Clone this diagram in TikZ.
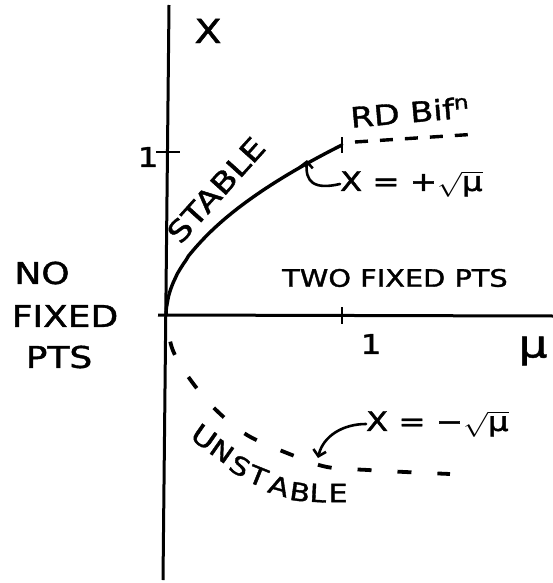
\documentclass[tikz,border=0pt]{standalone}
\usepackage{fontspec}
\setmainfont{DejaVu Sans}[FakeBold=1.3]
\usepackage{graphicx}
\usetikzlibrary{arrows.meta}
\newcommand\hw[1]{\scalebox{1.2}[1]{#1}}
\newcommand\fs[1]{\fontsize{#1}{#1}\selectfont}
\begin{document}
\begin{tikzpicture}[x=1pt,y=-1pt,
  axisline/.style={line width=3pt},
  tickmark/.style={line width=2.6pt},
  stablecurve/.style={line width=3.4pt, line cap=round},
  updash/.style={line width=3.4pt, dash pattern=on 13pt off 12pt},
  lowdash/.style={line width=3.8pt, dash pattern=on 14pt off 26pt, dash phase=14pt},
  ptr/.style={line width=2.6pt, line cap=round, -{Straight Barb[length=6pt,width=13pt,line width=2.6pt]}},
  lbl/.style={inner sep=0pt, outer sep=0pt}
]
\useasboundingbox (0,0) rectangle (553,583);
% axes
\coordinate (O) at (166,315);
\coordinate (ytop) at (169,5);
\coordinate (ybot) at (163,580);
\coordinate (xleft) at (158,315);
\coordinate (xright) at (553,316);
\draw[axisline] (ybot) -- (ytop);
\draw[axisline] (xleft) -- (xright);
% ticks
\coordinate (ty1) at (156,152); \coordinate (ty2) at (180,152);
\draw[tickmark] (ty1) -- (ty2);
\coordinate (tx1) at (342,307); \coordinate (tx2) at (342,324);
\draw[tickmark] (tx1) -- (tx2);
% stable branch
\coordinate (send) at (342,145);
\draw[stablecurve] (O) -- plot[domain=0.002:1, samples=80, smooth] ({166+176*\x}, {315-170*(\x)^0.52});
\coordinate (te1) at (342,137); \coordinate (te2) at (342,153);
\draw[tickmark] (te1) -- (te2);
% dashed continuation
\coordinate (ud1) at (355,142); \coordinate (ud2) at (478,134);
\draw[updash] (ud1) -- (ud2);
% unstable branch
\draw[lowdash] plot[smooth, tension=0.55] coordinates {(166,316) (172,348) (187,375) (213,407) (247,435) (292,455) (327,467) (368,470) (405,472) (450,474)};
% labels
\node[lbl, font=\fs{33}] (xlab) at (208,31) {\hw{X}};
\node[lbl, font=\fs{38}] (mulab) at (533,351) {\hw{μ}};
\node[lbl, font=\fs{27}] (oney) at (148,157) {\hw{1}};
\node[lbl, font=\fs{27}] (onex) at (371,344) {\hw{1}};
\node[lbl, font=\fs{29}, rotate=48] (stable) at (216,190) {\hw{STABLE}};
\node[lbl, font=\fs{28}, rotate=5] (rd) at (410,112) {\hw{RD Bif\textsuperscript{n}}};
\node[lbl, font=\fs{27}, anchor=west] (lp) at (340,184) {\hw{X = +$\sqrt{\vphantom{Xg}\mbox{μ}}$}};
\node[lbl, font=\fs{27}, anchor=west] (ln) at (366,424) {\hw{X = −$\sqrt{\vphantom{Xg}\mbox{μ}}$}};
\node[lbl, font=\fs{24}] (two) at (395,278) {\hw{TWO FIXED PTS}};
\node[lbl, font=\fs{30}] (nf1) at (42,273) {\hw{NO}};
\node[lbl, font=\fs{30}] (nf2) at (65,316) {\hw{FIXED}};
\node[lbl, font=\fs{30}] (nf3) at (59,357) {\hw{PTS}};
% UNSTABLE along the curve
\node[lbl, font=\fs{27}, rotate=-35] (u1) at (204,437) {\hw{U}};
\node[lbl, font=\fs{25}, rotate=-35] (u2) at (222,451) {\hw{N}};
\node[lbl, font=\fs{25}, rotate=-30] (u3) at (240,466) {\hw{S}};
\node[lbl, font=\fs{25}, rotate=-22] (u4) at (258,476) {\hw{T}};
\node[lbl, font=\fs{25}, rotate=-16] (u5) at (279,486) {\hw{A}};
\node[lbl, font=\fs{25}, rotate=-8] (u6) at (300,492) {\hw{B}};
\node[lbl, font=\fs{25}, rotate=-3] (u7) at (318,493) {\hw{L}};
\node[lbl, font=\fs{25}, rotate=0] (u8) at (338,493) {\hw{E}};
% pointer arrows
\coordinate (tipP) at (307,160);
\draw[ptr] (lp.west) .. controls (314,190) and (305,182) .. (tipP);
\coordinate (tipN) at (318,458);
\draw[ptr] (ln.west) .. controls (343,424) and (323,436) .. (tipN);
\end{tikzpicture}
\end{document}
